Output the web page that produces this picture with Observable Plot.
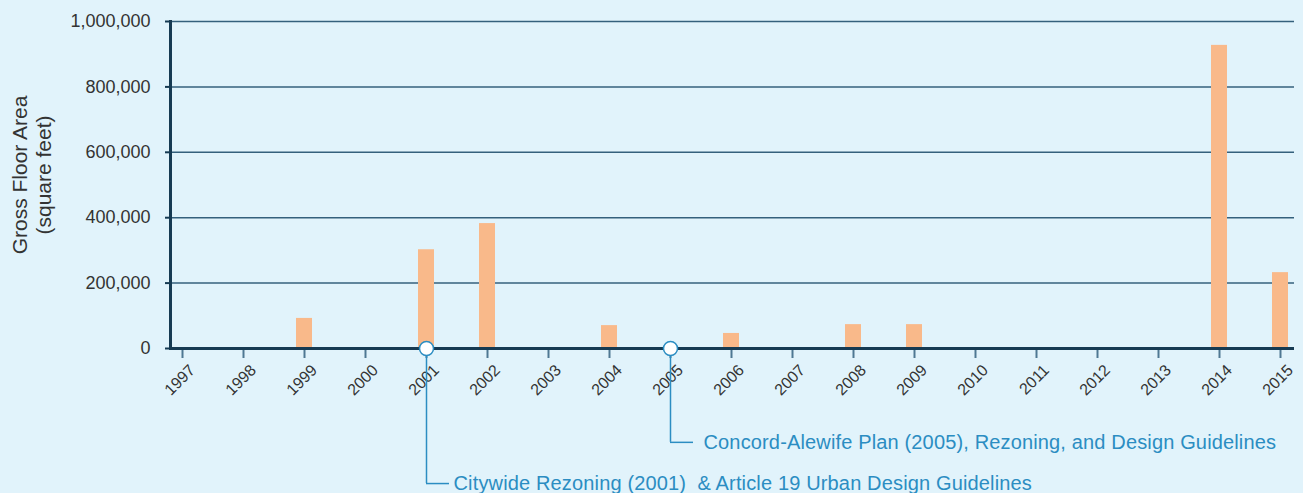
<!DOCTYPE html>
<html><head><meta charset="utf-8">
<script src="https://cdn.jsdelivr.net/npm/d3@7"></script>
<script src="https://cdn.jsdelivr.net/npm/@observablehq/plot@0.6"></script>
<style>
html,body{margin:0;padding:0;background:#e1f3fb;}
#chart svg{display:block;}
</style></head><body><div id="chart"></div>
<script>
const years = [1997,1998,1999,2000,2001,2002,2003,2004,2005,2006,2007,2008,2009,2010,2011,2012,2013,2014,2015];
const gfa = [0,0,92000,0,302000,382000,0,70000,0,46000,0,73000,73000,0,0,0,0,927000,232000];
const yTicks = [0,200000,400000,600000,800000,1000000];
const eventYears = [2001, 2005];
const eventLabels = [
  "Citywide Rezoning (2001)  & Article 19 Urban Design Guidelines",
  "Concord-Alewife Plan (2005), Rezoning, and Design Guidelines"
];
const yTitle = ["Gross Floor Area", "(square feet)"];

const data = years.map((year, i) => ({year: String(year), value: gfa[i]}));
const events = eventYears.map((year, i) => ({year: String(year), label: eventLabels[i]}));
const leaderDepth = new Map([["2001", -413000], ["2005", -287000]]);
const depth = d => leaderDepth.get(d.year);

const navy = "#163a52", blue = "#2b8dc2";
const font = "'Liberation Sans', Arial, Helvetica, sans-serif";
const labelStyle = {textAnchor: "start", fontSize: 20, fill: blue};

const chart = Plot.plot({
  width: 1303,
  height: 493,
  marginLeft: 170,
  marginRight: 9,
  marginTop: 21,
  marginBottom: 145,
  style: {background: "#e1f3fb", fontFamily: font, overflow: "visible"},
  x: {type: "band", domain: years.map(String), range: [171, 1291], paddingInner: 0.74, paddingOuter: 0, label: null},
  y: {domain: [0, 1000000], label: null},
  marks: [
    Plot.ruleY(yTicks.slice(1), {stroke: "#34607c", strokeWidth: 1.5}),
    Plot.barY(data.filter(d => d.value > 0), {x: "year", y: "value", fill: "#f9b98a"}),
    Plot.axisX({tickSize: 10, tickFormat: () => "", label: null, stroke: "#4f7893", strokeWidth: 2}),
    Plot.axisX({tickSize: 0, tickPadding: 19, tickRotate: -45, dx: 10, fontSize: 16, label: null, fill: "#333"}),
    Plot.axisY({ticks: yTicks, tickSize: 5, tickPadding: 15, tickFormat: d3.format(","), label: null, fontSize: 18, fill: "#333", stroke: navy, strokeWidth: 2}),
    Plot.frame({anchor: "left", stroke: navy, strokeWidth: 3}),
    Plot.ruleY([0], {stroke: navy, strokeWidth: 3}),
    Plot.ruleX(events, {x: "year", y1: 0, y2: depth, stroke: blue, strokeWidth: 1.5}),
    Plot.tickY(events, {x: "year", y: depth, insetLeft: 8, insetRight: -15, stroke: blue, strokeWidth: 1.5}),
    Plot.dot(events, {x: "year", y: 0, r: 7, fill: "white", stroke: blue, strokeWidth: 1.5}),
    Plot.text(events.slice(0, 1), {x: "year", y: depth, text: "label", dx: 27, ...labelStyle}),
    Plot.text(events.slice(1), {x: "year", y: depth, text: "label", dx: 33, ...labelStyle}),
    Plot.text([yTitle.join("\n")], {frameAnchor: "left", textAnchor: "middle", rotate: -90, dx: -139, dy: -10, fontSize: 21, lineHeight: 1.15, fill: "#333"})
  ]
});
chart.querySelectorAll("text").forEach(t => {
  const f = t.getAttribute("fill") || (t.parentNode && t.parentNode.getAttribute("fill"));
  if (f === blue) t.style.letterSpacing = "0.15px";
});
document.getElementById("chart").appendChild(chart);
</script></body></html>
